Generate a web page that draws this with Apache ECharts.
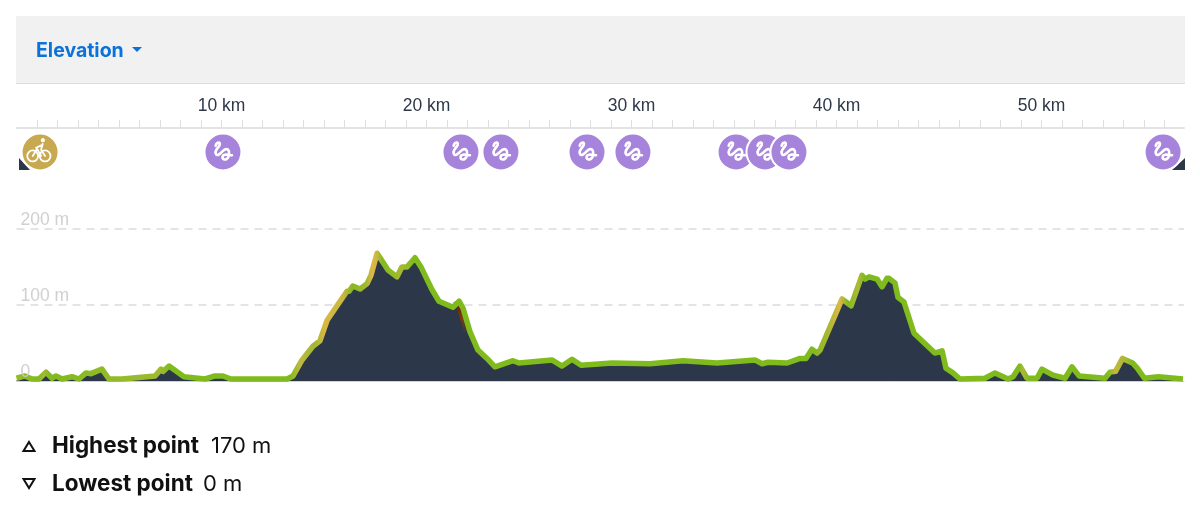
<!DOCTYPE html>
<html>
<head>
<meta charset="utf-8">
<title>Elevation</title>
<style>
html, body { margin: 0; padding: 0; background: #fff; }
#main { width: 1200px; height: 511px; }
</style>
<script src="https://cdn.jsdelivr.net/npm/echarts@6/dist/echarts.min.js"></script>
</head>
<body>
<div id="main"></div>
<script>
// distance along the route, km
const distance = [0, 0.41, 0.76, 1.1, 1.44, 1.73, 1.93, 2.22, 2.71, 3.05, 3.39, 3.63, 4.17, 4.51, 5.15, 6.76, 7.05, 7.15, 7.44, 8.17, 9.2, 9.68, 10.07, 10.46, 13.2, 13.49, 13.93, 14.46, 14.8, 15.15, 16.12, 16.22, 16.41, 16.76, 17.1, 17.29, 17.59, 18.12, 18.56, 18.8, 19.05, 19.44, 19.73, 20.27, 20.61, 21.29, 21.59, 21.78, 22.12, 22.51, 22.95, 23.34, 24.22, 24.51, 26.12, 26.61, 27.1, 27.54, 29.05, 30.9, 32.51, 34.17, 36.02, 36.37, 36.66, 37.59, 38.22, 38.51, 38.8, 39.05, 39.2, 40.27, 40.71, 41.24, 41.39, 41.59, 41.98, 42.22, 42.46, 42.56, 42.85, 43, 43.29, 43.78, 44.8, 45.15, 45.34, 45.68, 46.02, 47.24, 47.73, 48.37, 48.61, 48.95, 49.29, 49.78, 50.02, 50.56, 51.15, 51.49, 51.83, 53.1, 53.34, 53.61, 53.95, 54.44, 54.68, 55.02, 55.7, 56.9];
// elevation at each distance, m
const elevation = [1, 4, 0, 0, 9, 1, 4, 0, 3, 0, 8, 7, 13, 0, 0, 4, 13, 10, 17, 3, 0, 4, 4, 0, 0, 4, 25, 43, 50, 77, 115, 115, 122, 118, 125, 136, 165, 143, 134, 147, 147, 159, 147, 117, 102, 94, 102, 93, 62, 38, 27, 16, 24, 21, 25, 17, 26, 18, 21, 20, 24, 21, 25, 20, 22, 21, 27, 27, 39, 34, 38, 105, 96, 136, 131, 134, 131, 121, 132, 132, 126, 107, 101, 60, 34, 37, 14, 8, 0, 1, 8, 0, 3, 17, 1, 1, 13, 5, 1, 16, 4, 1, 9, 10, 27, 21, 14, 1, 3, 0];
// route line colour by steepness
const gradeKm = [0, 1.2, 1.44, 1.8, 7.05, 7.6, 13.4, 13.9, 14.6, 15.1, 16, 16.4, 17.1, 17.4, 17.6, 17.9, 18.8, 19.4, 38.8, 39.5, 40.1, 40.5, 41, 41.3, 48.8, 49, 49.3, 53.1, 53.5, 54, 54.3, 57];
const gradeColor = ['#9dba2c', '#80bb1e', '#a5b833', '#80bb1e', '#a0ba30', '#80bb1e', '#80bb1e', '#c0b83f', '#9fb832', '#d7b845', '#c8b840', '#88b825', '#a0b830', '#dcb848', '#d0b840', '#80bb1e', '#a5b930', '#80bb1e', '#80bb1e', '#a5b830', '#dbb847', '#80bb1e', '#b0b838', '#80bb1e', '#80bb1e', '#aab833', '#80bb1e', '#80bb1e', '#c0b83f', '#a8b830', '#80bb1e', '#80bb1e'];
// waypoints on the route, km
const surfaceStops = [10.07, 21.68, 23.63, 27.83, 30.07, 35.1, 36.51, 37.68, 55.93];
const startStop = [1.15];
// the steep bit that shows dark red
const steepFrom = 21.59, steepTo = 22.12;

const MAX_KM = 56.95;
const PLOT_LEFT = 16.5, PLOT_WIDTH = 1167.5;

const SQUIGGLE = 'M-7 -6C-6 -10 -2 -10 -3 -7C-4 -4 -8 -2 -7 1C-6 5 -2 1 0 -1C2 -3 5 -4 6 -1C7 3 5 7 2 7C-1 7 -1 3 2 2.5C4 2 7 3 9 3';
const BIKE = 'M-2 4a5.4 5.4 0 1 1-10.8 0a5.4 5.4 0 1 1 10.8 0M10.4 4a5.4 5.4 0 1 1-10.8 0a5.4 5.4 0 1 1 10.8 0M-7.3 4L-3 -3L1 4M2.7 -8L1 -2L5 4M2.2 -7L-4 -4M1.6 -11.5a1.2 1.2 0 1 1 2.4 0a1.2 1.2 0 1 1-2.4 0';

const profile = distance.map((km, i) => [km, elevation[i]]);
const steep = profile.filter(p => p[0] >= steepFrom && p[0] <= steepTo);

function routeGradient() {
  const stops = gradeKm.map((km, i) => ({ offset: Math.min(km / 56.9, 1), color: gradeColor[i] }));
  return new echarts.graphic.LinearGradient(0, 0, 1, 0, stops);
}

// circle plus icon, one item at a time so that later stops cover earlier ones
function renderStop(params, api, fill, icon, box, lw) {
  const c = api.coord([api.value(0), 0.5]);
  return {
    type: 'group',
    x: c[0],
    y: c[1],
    children: [
      { type: 'circle', shape: { cx: 0, cy: 0, r: 18.5 }, style: { fill: fill, stroke: '#fff', lineWidth: 2 } },
      {
        type: 'path',
        shape: { pathData: icon, layout: 'cover', x: box[0], y: box[1], width: box[2], height: box[3] },
        style: { fill: 'none', stroke: '#fff', lineWidth: lw, lineCap: 'round', lineJoin: 'round' }
      }
    ]
  };
}

const chart = echarts.init(document.getElementById('main'), null, { renderer: 'canvas' });

chart.setOption({
  animation: false,
  backgroundColor: '#fff',
  grid: [
    { left: PLOT_LEFT, width: PLOT_WIDTH, top: 228.5, height: 152.5 }, // fill
    { left: PLOT_LEFT, width: PLOT_WIDTH, top: 226.5, height: 152.5 }, // line sits just above the fill
    { left: PLOT_LEFT, width: PLOT_WIDTH, top: 128, height: 48 }, // km ruler and stops
    { left: PLOT_LEFT - 3.5, width: PLOT_WIDTH, top: 226.5, height: 152.5 } // red edge, inside the line
  ],
  xAxis: [
    {
      gridIndex: 0, type: 'value', min: 0, max: MAX_KM, interval: 1,
      axisLine: { show: true, onZero: false, lineStyle: { color: '#cfd2d6', width: 1 } },
      axisTick: { show: false }, axisLabel: { show: false }, splitLine: { show: false }
    },
    { gridIndex: 1, type: 'value', min: 0, max: MAX_KM, show: false },
    {
      gridIndex: 2, type: 'value', min: 0, max: MAX_KM, interval: 1, position: 'top',
      axisLine: { show: true, onZero: false, lineStyle: { color: '#e3e3e3', width: 2 } },
      axisTick: { show: true, length: 8, lineStyle: { color: '#dedede', width: 1 } },
      axisLabel: {
        showMinLabel: false,
        showMaxLabel: false,
        margin: 13,
        hideOverlap: false,
        color: '#2d3848',
        fontFamily: 'Liberation Sans',
        fontSize: 17.5,
        formatter: v => (v > 0 && v % 10 === 0 ? v + ' km' : '')
      },
      splitLine: { show: false }
    },
    { gridIndex: 3, type: 'value', min: 0, max: MAX_KM, show: false }
  ],
  yAxis: [
    // dashed lines stay behind the fill
    {
      gridIndex: 0, type: 'value', min: 0, max: 200, interval: 100,
      axisLine: { show: false }, axisTick: { show: false }, axisLabel: { show: false },
      splitLine: { show: true, showMinLine: false, lineStyle: { color: '#dcdcdc', width: 1.5, type: [8, 6] } }
    },
    { gridIndex: 1, type: 'value', min: 0, max: 200, show: false },
    { gridIndex: 2, type: 'value', min: 0, max: 1, show: false },
    // labels stay on top of it
    {
      gridIndex: 0, type: 'value', min: 0, max: 200, interval: 100, position: 'left', z: 10,
      axisLine: { show: false }, axisTick: { show: false }, splitLine: { show: false },
      axisLabel: {
        inside: true,
        margin: 4,
        verticalAlign: 'bottom',
        color: 'rgba(205,205,205,0.95)',
        fontFamily: 'Liberation Sans',
        fontSize: 17.5,
        lineHeight: 17,
        formatter: v => (v === 0 ? '0' : v + ' m')
      }
    },
    { gridIndex: 3, type: 'value', min: 0, max: 200, show: false }
  ],
  series: [
    {
      type: 'line', xAxisIndex: 0, yAxisIndex: 0, data: profile, symbol: 'none', z: 2,
      lineStyle: { width: 0 },
      areaStyle: { color: '#2c3749', opacity: 1 }
    },
    {
      type: 'line', xAxisIndex: 3, yAxisIndex: 4, data: steep, symbol: 'none', z: 3,
      clip: false,
      lineStyle: {
        width: 5,
        color: new echarts.graphic.LinearGradient(0, 0, 0, 1, [
          { offset: 0, color: '#6b1208' },
          { offset: 0.55, color: '#7a3a10' },
          { offset: 1, color: '#2c3749' }
        ])
      }
    },
    {
      type: 'line', xAxisIndex: 1, yAxisIndex: 1, data: profile, symbol: 'none', z: 4,
      clip: false,
      lineStyle: { width: 5.5, color: routeGradient(), join: 'round', cap: 'butt' }
    },
    {
      type: 'custom', xAxisIndex: 2, yAxisIndex: 2, z: 6, clip: false,
      data: startStop.map(km => [km]),
      renderItem: (p, api) => renderStop(p, api, '#c9a94f', BIKE, [-12.8, -13, 23.2, 22.4], 1.8)
    },
    {
      type: 'custom', xAxisIndex: 2, yAxisIndex: 2, z: 6, clip: false,
      data: surfaceStops.map(km => [km]),
      renderItem: (p, api) => renderStop(p, api, '#a784db', SQUIGGLE, [-7.5, -9.5, 16.5, 17], 2.6)
    }
  ],
  graphic: [
    { type: 'rect', z: -1, shape: { x: 16, y: 16, width: 1169, height: 67 }, style: { fill: '#f1f1f1' } },
    { type: 'rect', z: -1, shape: { x: 16, y: 83, width: 1169, height: 1 }, style: { fill: '#dcdcdc' } },
    { type: 'text', x: 36, y: 51, style: { text: 'Elevation', fill: '#0b72d9', font: '700 19.5px Inter', textVerticalAlign: 'middle' } },
    { type: 'polygon', shape: { points: [[132, 47], [142, 47], [137, 52]] }, style: { fill: '#0b72d9' } },
    // ends of the profile strip behind the first and last stop
    { type: 'polygon', z: 1, shape: { points: [[19, 158], [19, 170], [30, 170]] }, style: { fill: '#2c3749' } },
    { type: 'polygon', z: 1, shape: { points: [[1185, 158], [1185, 170], [1172, 170]] }, style: { fill: '#2c3749' } },
    { type: 'polygon', shape: { points: [[29, 442], [34.5, 451], [23.5, 451]] }, style: { fill: 'none', stroke: '#111', lineWidth: 2 } },
    { type: 'text', x: 52, y: 446, style: { text: 'Highest point', fill: '#111', font: '700 22.5px Inter', textVerticalAlign: 'middle' } },
    { type: 'text', x: 211, y: 446, style: { text: '170 m', fill: '#111', font: '400 22px Inter', textVerticalAlign: 'middle' } },
    { type: 'polygon', shape: { points: [[23.5, 479], [34.5, 479], [29, 488]] }, style: { fill: 'none', stroke: '#111', lineWidth: 2 } },
    { type: 'text', x: 52, y: 484, style: { text: 'Lowest point', fill: '#111', font: '700 22.5px Inter', textVerticalAlign: 'middle' } },
    { type: 'text', x: 203, y: 484, style: { text: '0 m', fill: '#111', font: '400 22px Inter', textVerticalAlign: 'middle' } }
  ]
});
</script>
</body>
</html>
